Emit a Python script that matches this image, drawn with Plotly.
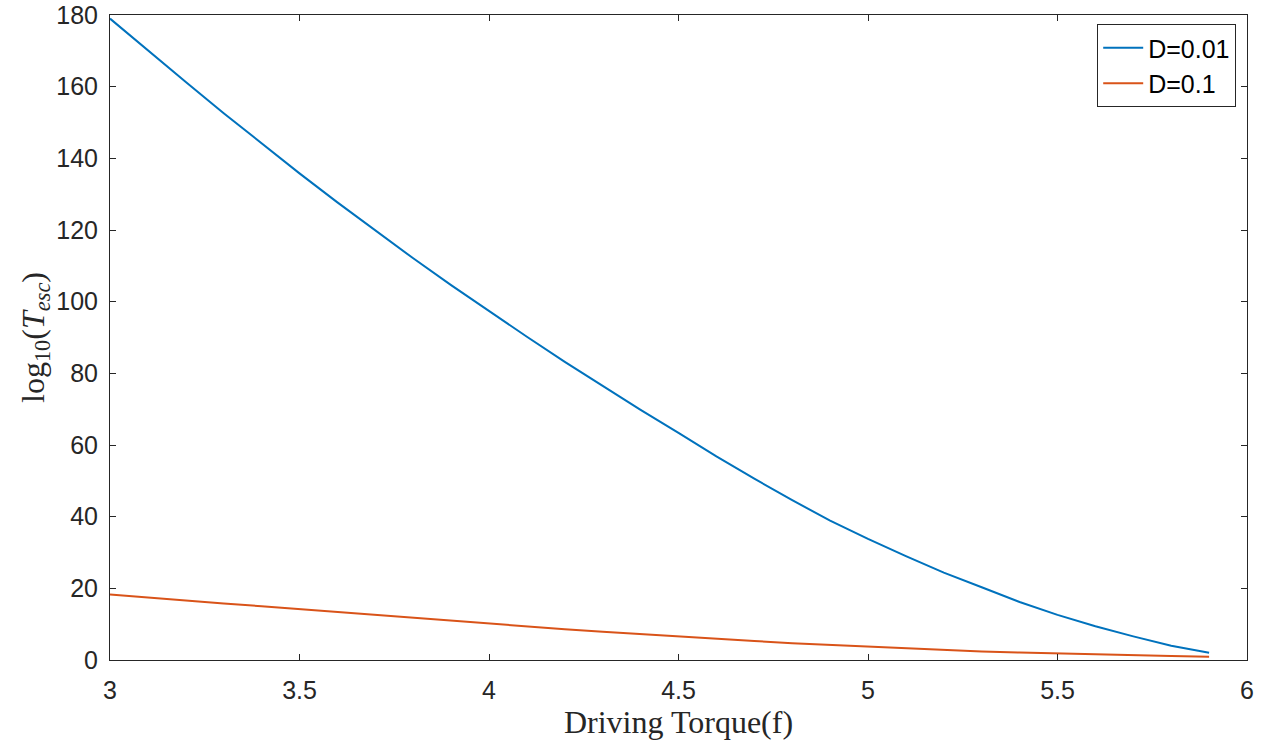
import plotly.graph_objects as go

f_vals = [3.0, 3.1, 3.2, 3.3, 3.4, 3.5, 3.6, 3.7, 3.8, 3.9,
          4.0, 4.1, 4.2, 4.3, 4.4, 4.5, 4.6, 4.7, 4.8, 4.9,
          5.0, 5.1, 5.2, 5.3, 5.4, 5.5, 5.6, 5.7, 5.8, 5.9]
d001 = [179.0, 170.1, 161.3, 152.6, 144.1, 135.8, 127.7, 119.8, 112.1, 104.6,
        97.3, 90.2, 83.2, 76.4, 69.8, 63.4, 56.8, 50.6, 44.6, 38.9,
        33.8, 29.0, 24.4, 20.3, 16.2, 12.6, 9.4, 6.6, 4.0, 2.0]
d01 = [18.3, 17.4, 16.6, 15.8, 15.0, 14.2, 13.4, 12.5, 11.7, 10.8,
       10.0, 9.3, 8.6, 7.9, 7.2, 6.5, 5.9, 5.3, 4.7, 4.2,
       3.7, 3.2, 2.8, 2.4, 2.1, 1.8, 1.5, 1.3, 1.1, 0.9]
x_ticks = [3, 3.5, 4, 4.5, 5, 5.5, 6]
y_ticks = [0, 20, 40, 60, 80, 100, 120, 140, 160, 180]

fig = go.Figure()
fig.add_trace(go.Scatter(x=f_vals, y=d001, mode="lines", name="D=0.01",
                         line=dict(color="#0072BD", width=2)))
fig.add_trace(go.Scatter(x=f_vals, y=d01, mode="lines", name="D=0.1",
                         line=dict(color="#D95319", width=2)))

axcol = "#262626"
serif = "Liberation Serif, DejaVu Serif"
fig.update_layout(
    width=1279, height=751,
    margin=dict(l=110, r=32, t=15, b=91, autoexpand=False),
    paper_bgcolor="white", plot_bgcolor="white",
    font=dict(family="Liberation Sans, Arial", size=25, color=axcol),
    showlegend=True,
    legend=dict(x=0.9905, y=0.986, xanchor="right", yanchor="top",
                bgcolor="white", bordercolor=axcol, borderwidth=1,
                font=dict(family="Liberation Sans, Arial", size=25, color="black"),
                tracegroupgap=0, itemwidth=40),
    xaxis=dict(range=[3, 6], tickvals=x_ticks, ticktext=[str(v) for v in x_ticks],
               ticks="inside", ticklen=6, tickcolor=axcol, showline=True,
               linecolor=axcol, linewidth=1, mirror="ticks", showgrid=False,
               zeroline=False, ticklabelstandoff=8, ticklabeloverflow="allow",
               automargin=False,
               title=dict(text="Driving Torque(f)",
                          font=dict(family=serif, size=32, color=axcol),
                          standoff=2)),
    yaxis=dict(range=[0, 180], tickvals=y_ticks,
               ticks="inside", ticklen=6, tickcolor=axcol, showline=True,
               linecolor=axcol, linewidth=1, mirror="ticks", showgrid=False,
               zeroline=False, ticklabelstandoff=6, ticklabeloverflow="allow",
               automargin=False,
               title=dict(text="log<sub>10</sub>(<i>T</i><sub><i>esc</i></sub>)",
                          font=dict(family=serif, size=32, color=axcol),
                          standoff=2)),
)
fig.write_html("out.html")
